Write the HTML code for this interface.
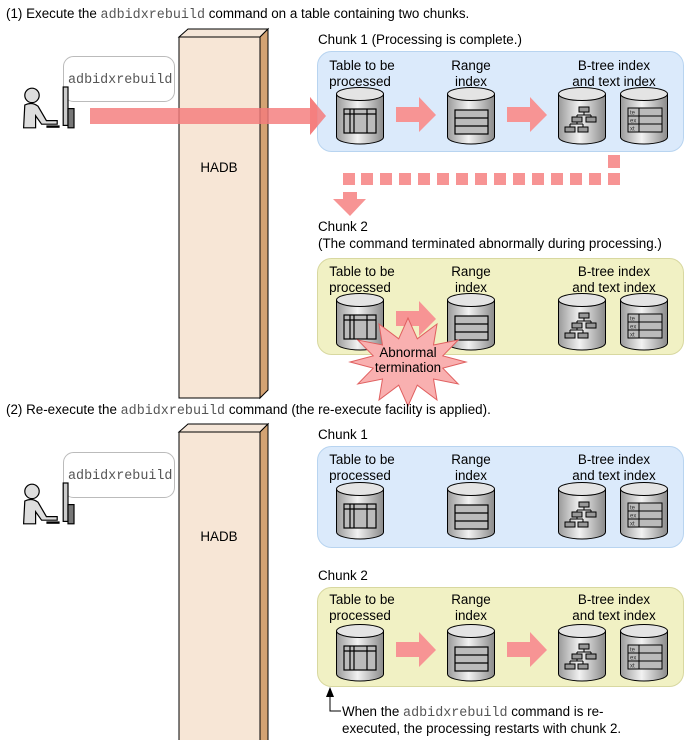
<!DOCTYPE html>
<html><head><meta charset="utf-8"><style>
html,body{margin:0;background:#fff;overflow:hidden;width:687px;height:740px}
svg{display:block;font-family:"Liberation Sans",sans-serif;font-size:13.4px}
.m{font-family:"Liberation Mono",monospace;fill:#555}
</style></head><body>
<svg width="687" height="740" viewBox="0 0 687 740" xmlns="http://www.w3.org/2000/svg">
<defs>
<linearGradient id="cg" x1="0" x2="1" y1="0" y2="0">
<stop offset="0" stop-color="#9a9a9a"/><stop offset="0.45" stop-color="#f2f2f2"/><stop offset="1" stop-color="#8a8a8a"/></linearGradient>
<g id="cyl">
<path d="M0.5,7 V50 A23.5,7 0 0 0 47.5,50 V7 Z" fill="url(#cg)" stroke="#000"/>
<ellipse cx="24" cy="7" rx="23.5" ry="6.5" fill="#e4e4e4" stroke="#000"/>
</g>
<g id="tbl"><rect x="8" y="22" width="32" height="24" fill="#bbb" stroke="#000" stroke-width="1.2"/>
<path d="M8,27H40M14,22V46M18,22V46M31,22V46" stroke="#000" stroke-width="1.2"/></g>
<g id="rng"><rect x="8" y="23" width="33" height="24" fill="#bbb" stroke="#000" stroke-width="1.2"/>
<path d="M8,31H41M8,39H41" stroke="#000" stroke-width="1.2"/></g>
<g id="tree" fill="#999" stroke="#000"><path d="M26,25V28M19,28H33M19,28V30M33,28V30M19,35V37M12,37H25M12,37V40M25,37V40" fill="none"/>
<rect x="21" y="20" width="10" height="5"/><rect x="14" y="30" width="10" height="5"/><rect x="28" y="30" width="10" height="5"/><rect x="7" y="40" width="10" height="5"/><rect x="20" y="40" width="10" height="5"/></g>
<g id="txt"><rect x="8" y="21" width="34" height="24" fill="#bbb" stroke="#000"/>
<path d="M8,29H42M8,37H42M19,21V45" stroke="#000"/>
<text x="10" y="27.5" font-size="6" fill="#333">te</text><text x="10" y="35.5" font-size="6" fill="#333">ex</text><text x="10" y="43.5" font-size="6" fill="#333">xt</text></g>
<g id="arr"><path d="M0,7H23V-3L40,15L23,32V22H0Z" fill="#f79494"/></g>
<g id="person">
<circle cx="10" cy="7" r="6" fill="#ddd" stroke="#000"/>
<path d="M4,15 Q10,12 15,16 L22,28 H31 V31 H18 L13,24 V34 H3 Z" fill="#ddd" stroke="#000"/>
<path d="M22,33H33" stroke="#000" stroke-width="2"/>
<rect x="36" y="0" width="4" height="32" fill="#ccc" stroke="#000"/>
<rect x="40" y="18" width="5" height="16" fill="#777" stroke="#000"/>
</g>
</defs>

<!-- Section 1 -->
<text x="6" y="18">(1) Execute the <tspan class="m">adbidxrebuild</tspan> command on a table containing two chunks.</text>
<path d="M179,37 L188,29 H268 L260,37 Z" fill="#f5e6d8" stroke="#000"/>
<path d="M260,37 L268,29 V390 L260,398 Z" fill="#d4a373" stroke="#000"/>
<rect x="179" y="37" width="81" height="361" fill="#f7e6d6" stroke="#000"/>
<text x="219" y="172" text-anchor="middle">HADB</text>
<rect x="63.5" y="56.5" width="111" height="45" rx="10" fill="#fff" stroke="#bbb"/>
<text x="68" y="83" class="m">adbidxrebuild</text>
<use href="#person" transform="translate(20,87) scale(1.2)"/>
<path d="M90,108 H310 V97 L326,116 L310,135 V124 H90 Z" fill="#f47b7b" fill-opacity="0.82"/>

<text x="318" y="44">Chunk 1 (Processing is complete.)</text>
<rect x="317.5" y="51.5" width="366" height="100" rx="14" fill="#dbeafb" stroke="#b8d4f0"/>
<path d="M310,97 L326,116 L310,135 Z" fill="#f47b7b" fill-opacity="0.85"/>
<g text-anchor="middle">
<text x="362" y="70">Table to be</text><text x="360" y="86">processed</text>
<text x="471" y="70">Range</text><text x="471" y="86">index</text>
<text x="614" y="70">B-tree index</text><text x="614" y="86">and text index</text>
</g>
<use href="#cyl" x="336" y="87"/><use href="#tbl" x="336" y="87"/>
<use href="#cyl" x="447" y="87"/><use href="#rng" x="447" y="87"/>
<use href="#cyl" x="558" y="87"/><use href="#tree" x="558" y="87"/>
<use href="#cyl" x="620" y="87"/><use href="#txt" x="620" y="87"/>
<use href="#arr" transform="translate(396,100)"/>
<use href="#arr" transform="translate(507,100)"/>
<g fill="#f79494">
<rect x="608" y="155" width="12" height="13"/>
<rect x="608" y="173" width="12" height="12"/><rect x="589" y="173" width="12" height="12"/><rect x="570" y="173" width="12" height="12"/><rect x="551" y="173" width="12" height="12"/><rect x="532" y="173" width="12" height="12"/><rect x="513" y="173" width="12" height="12"/><rect x="494" y="173" width="12" height="12"/><rect x="475" y="173" width="12" height="12"/><rect x="456" y="173" width="12" height="12"/><rect x="437" y="173" width="12" height="12"/><rect x="418" y="173" width="12" height="12"/><rect x="399" y="173" width="12" height="12"/><rect x="380" y="173" width="12" height="12"/><rect x="361" y="173" width="12" height="12"/><rect x="343" y="173" width="12" height="12"/>
<path d="M343,192 H357 V199 H366 L350,216 L333,199 H343 Z"/>
</g>

<text x="318" y="231">Chunk 2</text>
<text x="318" y="248">(The command terminated abnormally during processing.)</text>
<rect x="317.5" y="258.5" width="366" height="96" rx="14" fill="#f1f1c4" stroke="#d8d8a0"/>
<g text-anchor="middle">
<text x="362" y="276">Table to be</text><text x="360" y="292">processed</text>
<text x="471" y="276">Range</text><text x="471" y="292">index</text>
<text x="614" y="276">B-tree index</text><text x="614" y="292">and text index</text>
</g>
<use href="#cyl" x="336" y="293"/><use href="#tbl" x="336" y="293"/>
<use href="#cyl" x="447" y="293"/><use href="#rng" x="447" y="293"/>
<use href="#cyl" x="558" y="293"/><use href="#tree" x="558" y="293"/>
<use href="#cyl" x="620" y="293"/><use href="#txt" x="620" y="293"/>
<use href="#arr" transform="translate(396,304)"/>
<polygon points="466,362 442.8,368.2 458.2,384 433.5,379 437,400 417.3,385.2 408,406 398.7,385.2 379,400 382.5,379 357.8,384 373.2,368.2 350,362 373.2,355.8 357.8,340 382.5,345 379,324 398.7,338.8 408,318 417.3,338.8 437,324 433.5,345 458.2,340 442.8,355.8" fill="#f9b0b0" stroke="#e06060"/>
<text x="408" y="357" text-anchor="middle">Abnormal</text>
<text x="408" y="372" text-anchor="middle">termination</text>

<!-- Section 2 -->
<text x="6" y="414">(2) Re-execute the <tspan class="m">adbidxrebuild</tspan> command (the re-execute facility is applied).</text>
<path d="M179,432 L188,424 H268 L260,432 Z" fill="#f5e6d8" stroke="#000"/>
<path d="M260,432 L268,424 V741 H260 Z" fill="#d4a373" stroke="#000"/>
<rect x="179" y="432" width="81" height="310" fill="#f7e6d6" stroke="#000"/>
<text x="219" y="541" text-anchor="middle">HADB</text>
<rect x="63.5" y="452.5" width="111" height="45" rx="10" fill="#fff" stroke="#bbb"/>
<text x="68" y="479" class="m">adbidxrebuild</text>
<use href="#person" transform="translate(20,483) scale(1.2)"/>

<text x="318" y="439">Chunk 1</text>
<rect x="317.5" y="446.5" width="366" height="101" rx="14" fill="#dbeafb" stroke="#b8d4f0"/>
<g text-anchor="middle">
<text x="362" y="464">Table to be</text><text x="360" y="480">processed</text>
<text x="471" y="464">Range</text><text x="471" y="480">index</text>
<text x="614" y="464">B-tree index</text><text x="614" y="480">and text index</text>
</g>
<use href="#cyl" x="336" y="482"/><use href="#tbl" x="336" y="482"/>
<use href="#cyl" x="447" y="482"/><use href="#rng" x="447" y="482"/>
<use href="#cyl" x="558" y="482"/><use href="#tree" x="558" y="482"/>
<use href="#cyl" x="620" y="482"/><use href="#txt" x="620" y="482"/>

<text x="318" y="580">Chunk 2</text>
<rect x="317.5" y="587.5" width="366" height="99" rx="14" fill="#f1f1c4" stroke="#d8d8a0"/>
<g text-anchor="middle">
<text x="362" y="604">Table to be</text><text x="360" y="620">processed</text>
<text x="471" y="604">Range</text><text x="471" y="620">index</text>
<text x="614" y="604">B-tree index</text><text x="614" y="620">and text index</text>
</g>
<use href="#cyl" x="336" y="624"/><use href="#tbl" x="336" y="624"/>
<use href="#cyl" x="447" y="624"/><use href="#rng" x="447" y="624"/>
<use href="#cyl" x="558" y="624"/><use href="#tree" x="558" y="624"/>
<use href="#cyl" x="620" y="624"/><use href="#txt" x="620" y="624"/>
<use href="#arr" transform="translate(396,635)"/>
<use href="#arr" transform="translate(507,635)"/>

<path d="M330,696 V711 H341" fill="none" stroke="#000"/>
<path d="M326,697 L330,687 L334,697 Z" fill="#000"/>
<text x="342" y="716">When the <tspan class="m">adbidxrebuild</tspan> command is re-</text>
<text x="342" y="733">executed, the processing restarts with chunk 2.</text>
</svg>
</body></html>
